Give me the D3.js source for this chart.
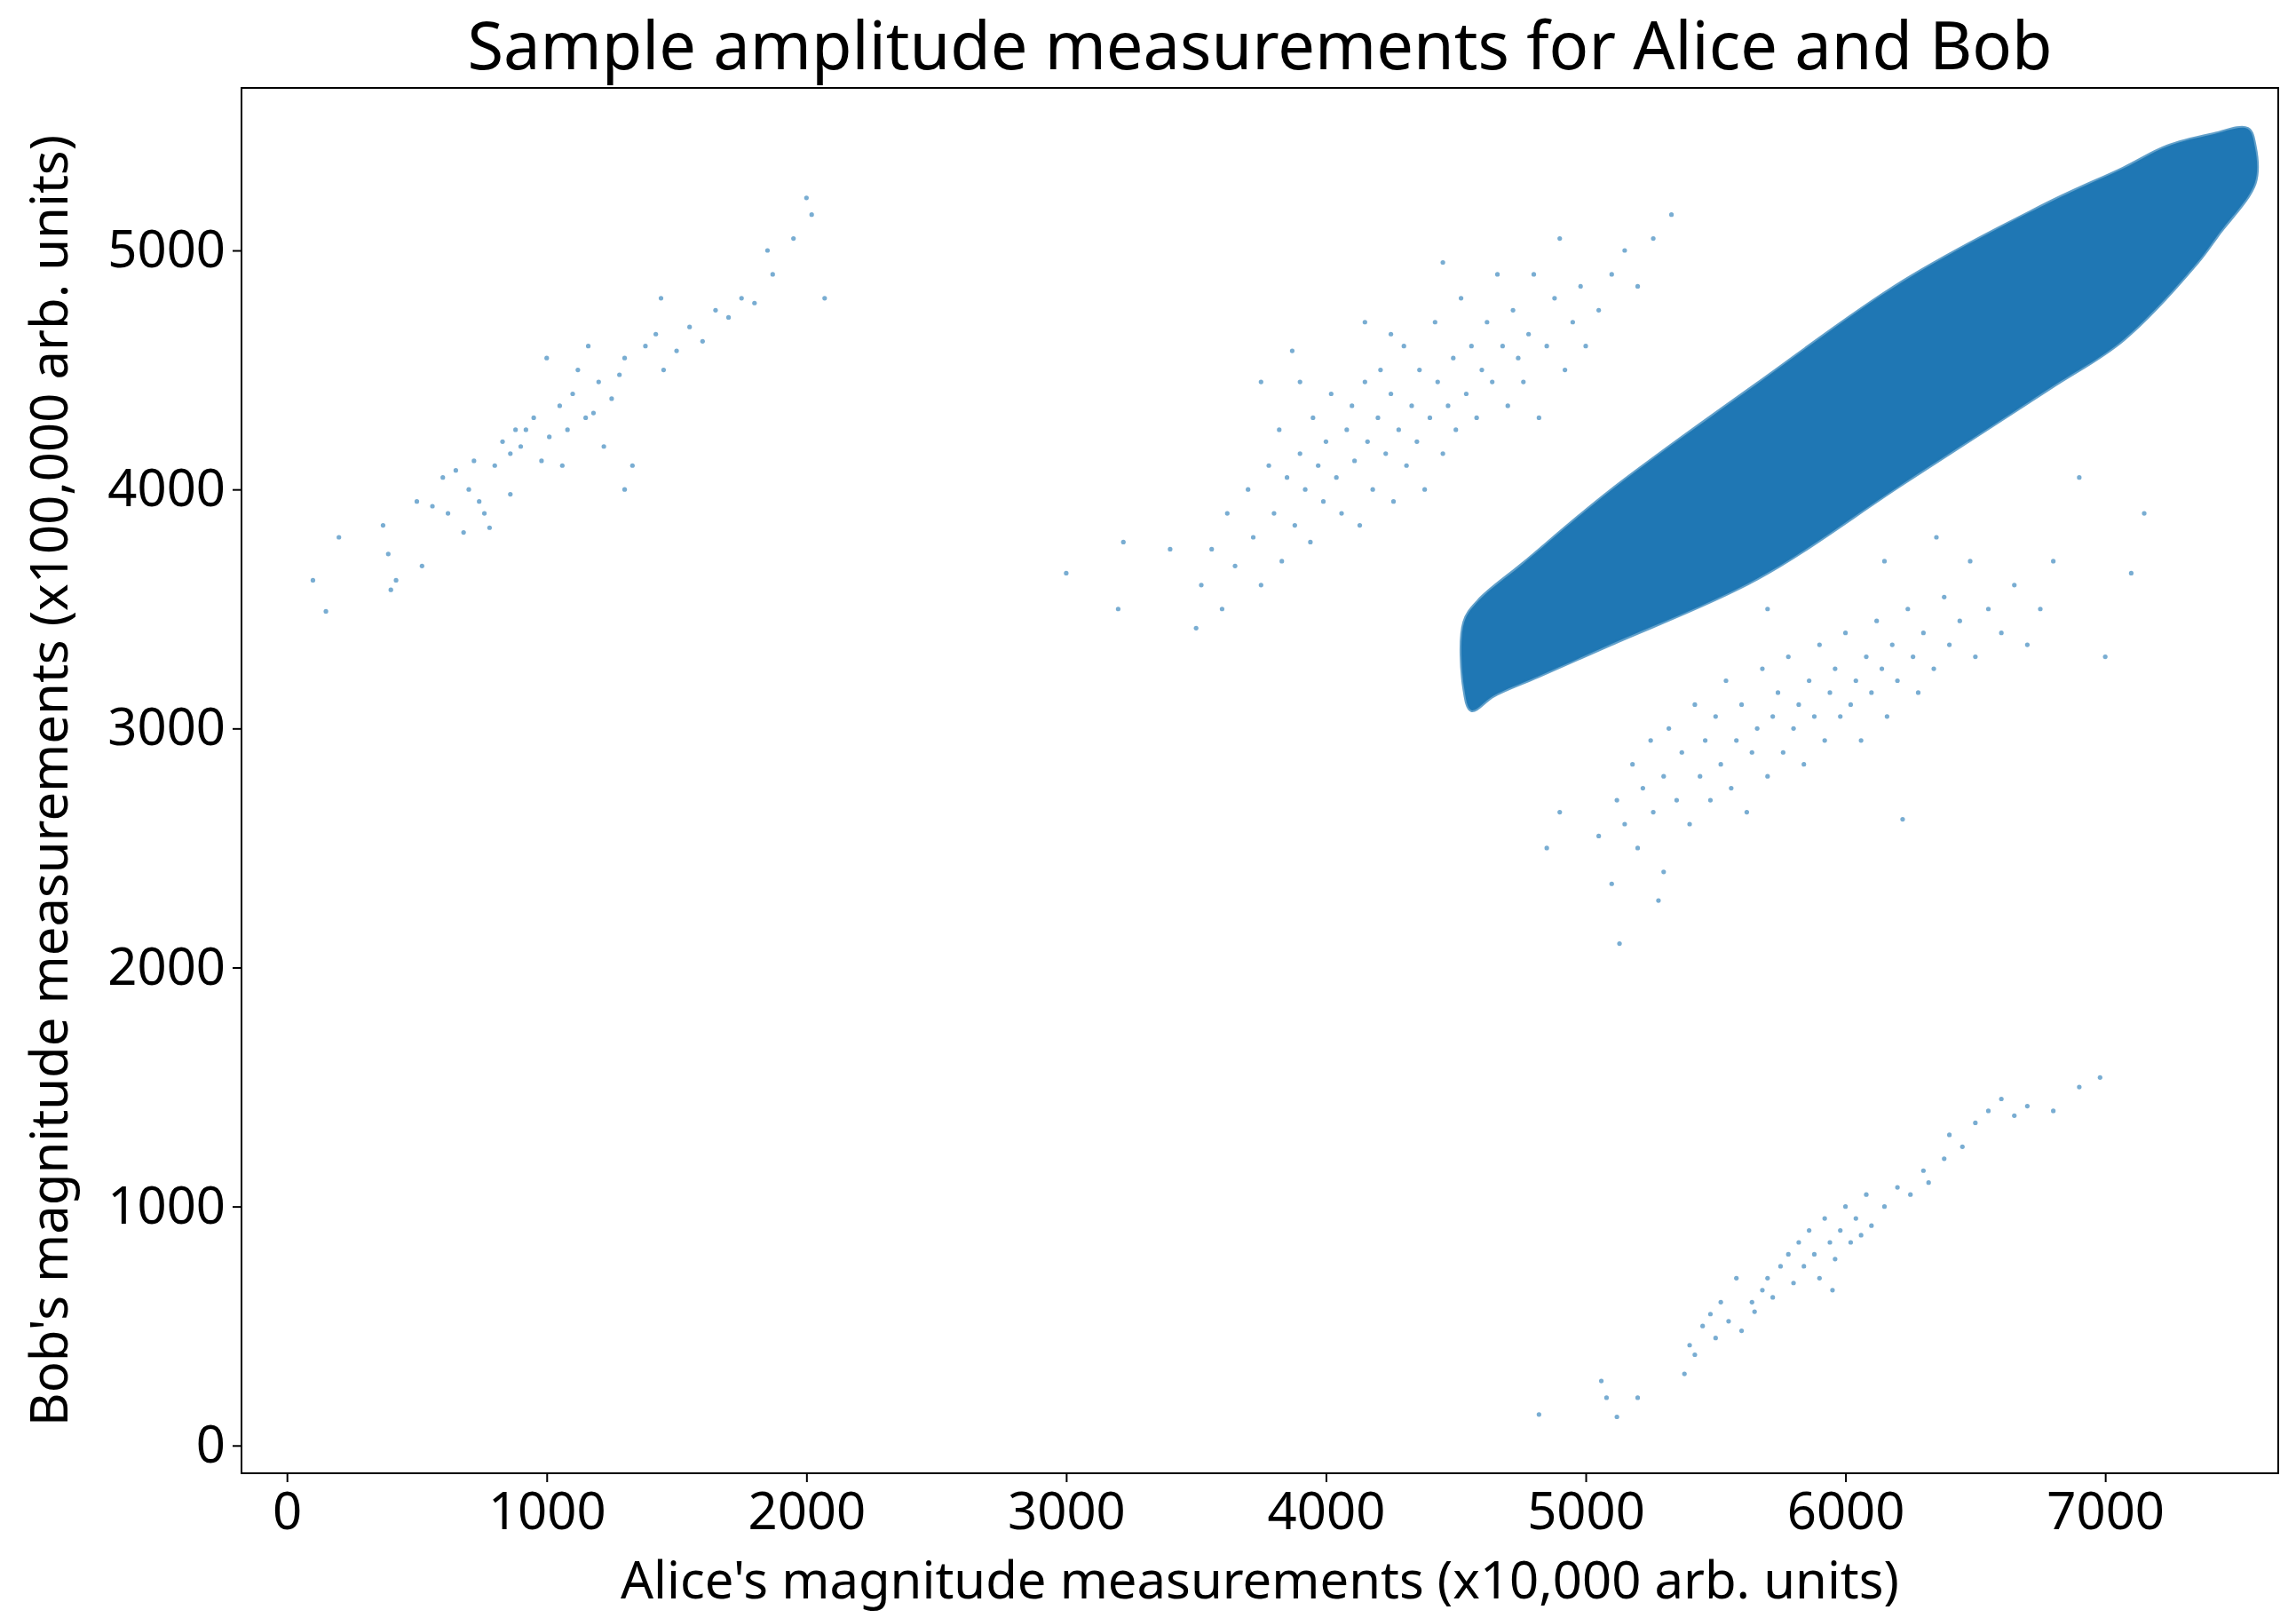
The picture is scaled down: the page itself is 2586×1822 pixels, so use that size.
<!DOCTYPE html>
<html>
<head>
<meta charset="utf-8">
<script src="https://cdn.jsdelivr.net/npm/d3@7"></script>
<style>
  body { margin: 0; background: #fff; }
  text { font-family: "Noto Sans", "DejaVu Sans", sans-serif; fill: #000; }
</style>
</head>
<body>
<svg id="chart" width="2586" height="1822"></svg>
<script>
// dense core cluster outline [alice, bob]
const coreOutline = [
  [4532, 3168], [4532, 3444], [4588, 3535], [4758, 3689], [5096, 3995], [5660, 4442],
  [6223, 4871], [6787, 5202], [7069, 5343], [7238, 5435], [7407, 5484], [7548, 5509],
  [7576, 5435], [7576, 5282], [7435, 5067], [7351, 4945], [7069, 4626], [6787, 4424],
  [6223, 4026], [5660, 3627], [5096, 3352], [4814, 3217], [4645, 3137], [4560, 3076]
];

const clusterUpperLeft = [
  [100,3620],[150,3490],[200,3800],[370,3850],[390,3730],[400,3580],[420,3620],[500,3950],[520,3680],
  [560,3930],[600,4050],[620,3900],[650,4080],[680,3820],[700,4000],[720,4120],[740,3950],[760,3900],
  [780,3840],[800,4100],[830,4200],[860,4150],[880,4250],[900,4180],[950,4300],[980,4120],[1000,4550],
  [1010,4220],[1050,4350],[1080,4250],[1100,4400],[1120,4500],[1150,4300],[1160,4600],[1200,4450],
  [1220,4180],[1250,4380],[1280,4480],[1300,4550],[1330,4100],[1380,4600],[1420,4650],[1440,4800],
  [1450,4500],[1500,4580],[1550,4680],[1600,4620],[1650,4750],[1700,4720],[1750,4800],[1800,4780],
  [1850,5000],[1870,4900],[1950,5050],[2000,5220],[2020,5150],[2070,4800],[1300,4000],[1180,4320],
  [860,3980],[920,4250],[1060,4100]
];

const clusterUpperMid = [
  [3000,3650],[3200,3500],[3220,3780],[3400,3750],
  [3500,3420],[3520,3600],[3560,3750],[3600,3500],[3620,3900],[3650,3680],[3700,4000],[3720,3800],
  [3750,3600],[3780,4100],[3800,3900],[3820,4250],[3830,3700],[3850,4050],[3870,4580],[3880,3850],
  [3900,4150],[3920,4000],[3940,3780],[3950,4300],[3970,4100],[3990,3950],[4000,4200],[4020,4400],
  [4040,4050],[4060,3900],[4080,4250],[4100,4350],[4110,4120],[4130,3850],[4150,4450],[4160,4200],
  [4180,4000],[4200,4300],[4210,4500],[4230,4150],[4250,4400],[4260,3950],[4280,4250],[4300,4600],
  [4310,4100],[4330,4350],[4350,4200],[4360,4500],[4380,4000],[4400,4300],[4420,4700],[4430,4450],
  [4450,4150],[4470,4350],[4490,4550],[4500,4250],[4520,4800],[4540,4400],[4560,4600],[4580,4300],
  [4600,4500],[4620,4700],[4640,4450],[4660,4900],[4680,4600],[4700,4350],[4720,4750],[4740,4550],
  [4760,4450],[4780,4650],[4800,4900],[4820,4300],[4850,4600],[4880,4800],[4900,5050],[4920,4500],
  [4950,4700],[4980,4850],[5000,4600],[5050,4750],[5100,4900],[5150,5000],[5200,4850],[5260,5050],
  [5330,5150],[4450,4950],[4150,4700],[3900,4450],[4250,4650],[3750,4450]
];

const clusterLowerMid = [
  [5050,2550],[5100,2350],[5120,2700],[5150,2600],[5180,2850],[5200,2500],[5220,2750],[5250,2950],
  [5260,2650],[5280,2280],[5300,2800],[5320,3000],[5350,2700],[5370,2900],[5400,2600],[5420,3100],
  [5440,2800],[5460,2950],[5480,2700],[5500,3050],[5520,2850],[5540,3200],[5560,2750],[5580,2950],
  [5600,3100],[5620,2650],[5640,2900],[5660,3000],[5680,3250],[5700,2800],[5720,3050],[5740,3150],
  [5760,2900],[5780,3300],[5800,3000],[5820,3100],[5840,2850],[5860,3200],[5880,3050],[5900,3350],
  [5920,2950],[5940,3150],[5960,3250],[5980,3050],[6000,3400],[6020,3100],[6040,3200],[6060,2950],
  [6080,3300],[6100,3150],[6120,3450],[6140,3250],[6160,3050],[6180,3350],[6200,3200],[6220,2620],
  [6240,3500],[6260,3300],[6280,3150],[6300,3400],[6340,3250],[6380,3550],[6400,3350],[6440,3450],
  [6480,3700],[6500,3300],[6550,3500],[6600,3400],[6650,3600],[6700,3350],[6750,3500],[6800,3700],
  [6900,4050],[7000,3300],[7100,3650],[7150,3900],[6150,3700],[5700,3500],[5300,2400],[4850,2500],
  [4900,2650],[6350,3800],[5130,2100]
];

const clusterBottom = [
  [4820,130],[5060,270],[5080,200],[5120,120],[5200,200],[5380,300],[5400,420],[5420,380],[5450,500],
  [5480,550],[5500,450],[5520,600],[5550,520],[5580,700],[5600,480],[5640,600],[5680,650],[5700,700],
  [5720,620],[5750,750],[5780,800],[5800,680],[5820,850],[5840,750],[5860,900],[5880,800],[5900,700],
  [5920,950],[5940,850],[5960,780],[5980,900],[6000,1000],[6020,850],[6040,950],[6060,880],[6080,1050],
  [6100,920],[6150,1000],[6200,1080],[6250,1050],[6300,1150],[6320,1100],[6380,1200],[6400,1300],
  [6450,1250],[6500,1350],[6550,1400],[6600,1450],[6650,1380],[6700,1420],[6800,1400],[6900,1500],
  [6980,1540],[5950,650],[5650,560]
];

const xTicks = [0, 1000, 2000, 3000, 4000, 5000, 6000, 7000];
const yTicks = [0, 1000, 2000, 3000, 4000, 5000];

const svg = d3.select('#chart');
const mLeft = 272, mRight = 2566, mTop = 99, mBottom = 1659;
const color = '#1f77b4';

const x = d3.scaleLinear().domain([-175, 7666]).range([mLeft, mRight]);
const y = d3.scaleLinear().domain([-116, 5680]).range([mBottom, mTop]);

// scatter points
const sparse = [].concat(clusterUpperLeft, clusterUpperMid, clusterLowerMid, clusterBottom);
svg.append('g').selectAll('circle')
  .data(sparse)
  .enter().append('circle')
  .attr('cx', (d) => x(d[0]))
  .attr('cy', (d) => y(d[1]))
  .attr('r', 2.6)
  .attr('fill', color)
  .attr('fill-opacity', 0.6);

// the dense core is drawn as a filled region
svg.append('path')
  .datum(coreOutline)
  .attr('d', d3.line().x((d) => x(d[0])).y((d) => y(d[1])).curve(d3.curveCatmullRomClosed))
  .attr('fill', color)
  .attr('stroke', color)
  .attr('stroke-width', 4)
  .attr('stroke-opacity', 0.7);

// axes
const xAxis = svg.append('g')
  .attr('transform', `translate(0,${mBottom})`)
  .call(d3.axisBottom(x).tickValues(xTicks).tickFormat(d3.format('d')).tickSize(10).tickPadding(12));
const yAxis = svg.append('g')
  .attr('transform', `translate(${mLeft},0)`)
  .call(d3.axisLeft(y).tickValues(yTicks).tickFormat(d3.format('d')).tickSize(10).tickPadding(8));
[xAxis, yAxis].forEach((g) => {
  g.select('.domain').remove();
  g.selectAll('line').attr('stroke', '#000').attr('stroke-width', 2);
  g.selectAll('text').style('font-size', '58px').attr('fill', '#000');
});

svg.append('rect')
  .attr('x', mLeft).attr('y', mTop)
  .attr('width', mRight - mLeft).attr('height', mBottom - mTop)
  .attr('fill', 'none').attr('stroke', '#000').attr('stroke-width', 2);

svg.append('text')
  .attr('x', (mLeft + mRight) / 2).attr('y', 78)
  .attr('text-anchor', 'middle').style('font-size', '74px')
  .text('Sample amplitude measurements for Alice and Bob');

svg.append('text')
  .attr('x', (mLeft + mRight) / 2).attr('y', 1800)
  .attr('text-anchor', 'middle').style('font-size', '58px')
  .text("Alice's magnitude measurements (x10,000 arb. units)");

svg.append('text')
  .attr('transform', `translate(76,${(mTop + mBottom) / 2}) rotate(-90)`)
  .attr('text-anchor', 'middle').style('font-size', '58px')
  .text("Bob's magnitude measurements (x100,000 arb. units)");
</script>
</body>
</html>
